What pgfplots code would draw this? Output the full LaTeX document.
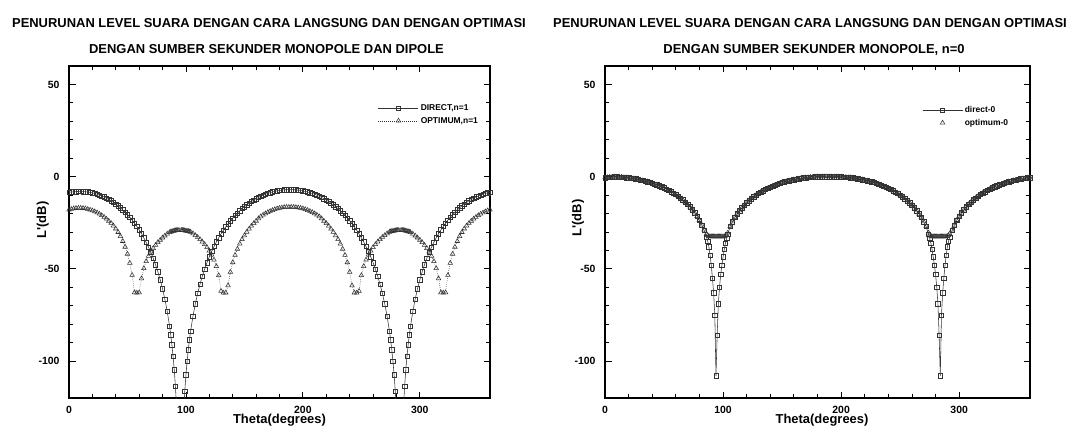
\documentclass[border=0pt]{standalone}
\usepackage{fontspec}
\setmainfont{Liberation Sans}
\usepackage{pgfplots}
\usepackage{pgfplotstable}
\pgfplotsset{compat=1.18}
\begin{document}
\pgfplotstableread{
t D O
0 -8.5 -18.0
2 -8.3 -17.6
4 -8.2 -17.3
6 -8.1 -17.1
8 -8.0 -17.0
10 -8.0 -17.0
12 -8.1 -17.1
14 -8.2 -17.3
16 -8.3 -17.6
18 -8.5 -18.0
20 -8.8 -18.4
22 -9.1 -18.9
24 -9.5 -19.5
26 -10.0 -20.2
28 -10.5 -21.0
30 -11.0 -21.9
32 -11.7 -22.9
34 -12.4 -24.0
36 -13.1 -25.2
38 -14.0 -26.6
40 -14.9 -28.2
42 -15.8 -30.1
44 -16.9 -32.3
46 -18.0 -35.0
48 -19.3 -38.1
50 -20.6 -41.9
52 -22.0 -46.8
54 -23.5 -53.4
56 -25.2 -62.8
58 -27.0 -63.0
60 -28.9 -62.8
62 -30.9 -55.2
64 -33.2 -49.7
66 -35.6 -45.9
68 -38.2 -43.0
70 -41.1 -40.7
72 -44.2 -38.8
74 -47.7 -37.1
76 -51.6 -35.6
78 -55.9 -34.3
80 -60.8 -33.1
82 -66.5 -32.0
84 -73.1 -31.0
86 -81.1 -30.2
87 -85.8 -29.9
88 -91.2 -29.7
89 -97.4 -29.5
90 -104.7 -29.3
91 -113.7 -29.2
92 -125.3 -29.1
93 -141.7 -29.05
94 -170 -29.0
96 -172 -29.0
97 -144.3 -29.05
98 -127.9 -29.1
99 -116.3 -29.2
100 -107.3 -29.3
101 -100.0 -29.45
102 -93.8 -29.6
103 -88.4 -29.8
104 -83.7 -30.0
106 -75.6 -30.8
108 -69.0 -31.8
110 -63.3 -32.8
112 -58.4 -34.0
114 -54.0 -35.3
116 -50.1 -36.7
118 -46.6 -38.3
120 -43.4 -40.2
122 -40.5 -42.4
124 -37.9 -45.1
126 -35.4 -48.6
128 -33.1 -53.5
130 -31.0 -62.0
132 -29.0 -63.0
134 -27.2 -62.9
136 -25.5 -59.0
138 -23.9 -51.7
140 -22.4 -46.5
142 -21.0 -42.5
144 -19.7 -39.2
146 -18.5 -36.4
148 -17.3 -34.0
150 -16.3 -31.9
152 -15.3 -30.0
154 -14.3 -28.3
156 -13.5 -26.7
158 -12.7 -25.3
160 -11.9 -24.0
162 -11.3 -22.7
164 -10.6 -21.6
166 -10.1 -20.7
168 -9.5 -20.0
170 -9.1 -19.3
172 -8.7 -18.7
174 -8.3 -18.2
176 -8.0 -17.7
178 -7.7 -17.3
180 -7.5 -17.0
182 -7.3 -16.8
184 -7.1 -16.6
186 -7.1 -16.5
188 -7.0 -16.5
190 -7.0 -16.5
192 -7.1 -16.5
194 -7.1 -16.6
196 -7.3 -16.8
198 -7.5 -17.0
200 -7.7 -17.3
202 -8.0 -17.7
204 -8.3 -18.2
206 -8.7 -18.7
208 -9.1 -19.3
210 -9.5 -20.0
212 -10.1 -20.7
214 -10.6 -21.6
216 -11.3 -22.7
218 -11.9 -24.0
220 -12.7 -25.3
222 -13.5 -26.7
224 -14.3 -28.3
226 -15.3 -30.0
228 -16.3 -31.9
230 -17.3 -34.0
232 -18.5 -36.4
234 -19.7 -39.2
236 -21.0 -42.5
238 -22.4 -46.5
240 -23.9 -51.7
242 -25.5 -59.0
244 -27.2 -62.9
246 -29.0 -63.0
248 -31.0 -62.0
250 -33.1 -53.5
252 -35.4 -48.6
254 -37.9 -45.1
256 -40.5 -42.4
258 -43.4 -40.2
260 -46.6 -38.3
262 -50.1 -36.7
264 -54.0 -35.3
266 -58.4 -34.0
268 -63.3 -32.8
270 -69.0 -31.8
272 -75.6 -30.8
274 -83.7 -30.0
275 -88.4 -29.8
276 -93.8 -29.6
277 -100.0 -29.45
278 -107.3 -29.3
279 -116.3 -29.2
280 -127.9 -29.1
281 -144.3 -29.05
282 -172 -29.0
284 -170 -29.0
285 -141.7 -29.05
286 -125.3 -29.1
287 -113.7 -29.2
288 -104.7 -29.3
289 -97.4 -29.5
290 -91.2 -29.7
291 -85.8 -29.9
292 -81.1 -30.2
294 -73.1 -31.0
296 -66.5 -32.0
298 -60.8 -33.1
300 -55.9 -34.3
302 -51.6 -35.6
304 -47.7 -37.1
306 -44.2 -38.8
308 -41.1 -40.7
310 -38.2 -43.0
312 -35.6 -45.9
314 -33.2 -49.7
316 -30.9 -55.2
318 -28.9 -62.8
320 -27.0 -63.0
322 -25.2 -62.8
324 -23.5 -53.4
326 -22.0 -46.8
328 -20.6 -41.9
330 -19.3 -38.1
332 -18.0 -35.0
334 -16.9 -32.3
336 -15.8 -30.1
338 -14.9 -28.2
340 -14.0 -26.6
342 -13.1 -25.2
344 -12.4 -24.0
346 -11.7 -22.9
348 -11.0 -21.9
350 -10.5 -21.0
352 -10.0 -20.2
354 -9.5 -19.5
356 -9.1 -18.9
358 -8.8 -18.4
360 -8.5 -18.0
}\leftdata
\pgfplotstableread{
t D O
0 -0.5 -0.5
2 -0.4 -0.4
4 -0.2 -0.2
6 -0.2 -0.2
8 -0.1 -0.1
10 -0.1 -0.1
12 -0.2 -0.2
14 -0.2 -0.2
16 -0.4 -0.4
18 -0.5 -0.5
20 -0.6 -0.6
22 -0.8 -0.8
24 -1.0 -1.0
26 -1.2 -1.2
28 -1.5 -1.5
30 -1.8 -1.8
32 -2.1 -2.1
34 -2.4 -2.4
36 -2.7 -2.7
38 -3.1 -3.1
40 -3.5 -3.5
42 -4.0 -4.0
44 -4.4 -4.4
46 -4.9 -4.9
48 -5.5 -5.5
50 -6.1 -6.1
52 -6.7 -6.7
54 -7.4 -7.4
56 -8.1 -8.1
58 -8.9 -8.9
60 -9.7 -9.7
62 -10.6 -10.6
64 -11.6 -11.6
66 -12.6 -12.6
68 -13.8 -13.8
70 -15.0 -15.0
72 -16.4 -16.4
74 -17.9 -17.9
76 -19.6 -19.6
78 -21.5 -21.5
80 -23.7 -23.6
82 -26.2 -26.1
84 -29.2 -28.8
86 -32.8 -31.0
87 -35.0 -31.8
88 -38.0 -32.3
89 -42.5 -32.5
90 -48.0 -32.5
91 -55.0 -32.5
92 -63.0 -32.5
93 -75.0 -32.5
94 -108.0 -32.5
95 -86.0 -32.5
96 -69.0 -32.5
97 -60.0 -32.5
98 -53.0 -32.5
99 -48.0 -32.5
100 -43.5 -32.5
101 -39.5 -32.4
102 -36.0 -32.1
103 -33.5 -31.5
104 -31.3 -30.4
106 -27.0 -26.9
108 -24.4 -24.4
110 -22.1 -22.1
112 -20.2 -20.2
114 -18.4 -18.4
116 -16.9 -16.9
118 -15.4 -15.4
120 -14.1 -14.1
122 -13.0 -13.0
124 -11.9 -11.9
126 -10.9 -10.9
128 -10.0 -10.0
130 -9.1 -9.1
132 -8.3 -8.3
134 -7.6 -7.6
136 -6.9 -6.9
138 -6.3 -6.3
140 -5.7 -5.7
142 -5.1 -5.1
144 -4.6 -4.6
146 -4.1 -4.1
148 -3.7 -3.7
150 -3.2 -3.2
152 -2.8 -2.8
154 -2.5 -2.5
156 -2.2 -2.2
158 -1.8 -1.8
160 -1.6 -1.6
162 -1.3 -1.3
164 -1.1 -1.1
166 -0.9 -0.9
168 -0.7 -0.7
170 -0.5 -0.5
172 -0.4 -0.4
174 -0.3 -0.3
176 -0.2 -0.2
178 -0.1 -0.1
180 0 0
182 0 0
184 0 0
186 0 0
188 0 0
190 0 0
192 0 0
194 0 0
196 0 0
198 0 0
200 -0.1 -0.1
202 -0.2 -0.2
204 -0.3 -0.3
206 -0.4 -0.4
208 -0.5 -0.5
210 -0.7 -0.7
212 -0.9 -0.9
214 -1.1 -1.1
216 -1.3 -1.3
218 -1.6 -1.6
220 -1.8 -1.8
222 -2.2 -2.2
224 -2.5 -2.5
226 -2.8 -2.8
228 -3.2 -3.2
230 -3.7 -3.7
232 -4.1 -4.1
234 -4.6 -4.6
236 -5.1 -5.1
238 -5.7 -5.7
240 -6.3 -6.3
242 -6.9 -6.9
244 -7.6 -7.6
246 -8.3 -8.3
248 -9.1 -9.1
250 -10.0 -10.0
252 -10.9 -10.9
254 -11.9 -11.9
256 -13.0 -13.0
258 -14.1 -14.1
260 -15.4 -15.4
262 -16.9 -16.9
264 -18.4 -18.4
266 -20.2 -20.2
268 -22.1 -22.1
270 -24.4 -24.4
272 -27.0 -26.9
274 -31.3 -30.4
275 -33.5 -31.5
276 -36.0 -32.1
277 -39.5 -32.4
278 -43.5 -32.5
279 -48.0 -32.5
280 -53.0 -32.5
281 -60.0 -32.5
282 -69.0 -32.5
283 -86.0 -32.5
284 -108.0 -32.5
285 -75.0 -32.5
286 -63.0 -32.5
287 -55.0 -32.5
288 -48.0 -32.5
289 -42.5 -32.5
290 -38.0 -32.3
291 -35.0 -31.8
292 -32.8 -31.0
294 -29.2 -28.8
296 -26.2 -26.1
298 -23.7 -23.6
300 -21.5 -21.5
302 -19.6 -19.6
304 -17.9 -17.9
306 -16.4 -16.4
308 -15.0 -15.0
310 -13.8 -13.8
312 -12.6 -12.6
314 -11.6 -11.6
316 -10.6 -10.6
318 -9.7 -9.7
320 -8.9 -8.9
322 -8.1 -8.1
324 -7.4 -7.4
326 -6.7 -6.7
328 -6.1 -6.1
330 -5.5 -5.5
332 -4.9 -4.9
334 -4.4 -4.4
336 -4.0 -4.0
338 -3.5 -3.5
340 -3.1 -3.1
342 -2.7 -2.7
344 -2.4 -2.4
346 -2.1 -2.1
348 -1.8 -1.8
350 -1.5 -1.5
352 -1.2 -1.2
354 -1.0 -1.0
356 -0.8 -0.8
358 -0.6 -0.6
360 -0.5 -0.5
}\rightdata
\begin{tikzpicture}[x=1bp,y=1bp]
\useasboundingbox (0,0) rectangle (1079,429);
\pgfplotsset{
  myaxis/.style={
    scale only axis, height=332bp,
    xmin=0, xmax=360, ymin=-120, ymax=60,
    xtick={0,100,200,300}, ytick={-100,-50,0,50},
    minor x tick num=4, minor y tick num=4,
    tick align=inside,
    major tick length=6.5bp, minor tick length=4bp,
    axis line style={line width=1.6bp},
    every tick/.style={line width=0.85bp, black},
    /pgf/number format/assume math mode=true,
    ticklabel style={font=\fontsize{10.5}{10.5}\selectfont\bfseries},
    yticklabel style={xshift=-6bp},
    xticklabel style={yshift=-5bp},
    label style={font=\fontsize{13}{13}\selectfont\bfseries},
    legend style={draw=none, fill=none, anchor=north west,
      font=\fontsize{8.5}{9}\selectfont\bfseries, row sep=1bp, inner sep=0pt,
      cells={anchor=west}},
    legend image code/.code={\draw[mark repeat=2,mark phase=2,##1] plot coordinates {(0bp,0bp) (20bp,0bp) (40bp,0bp)};},
  }
}
\begin{axis}[myaxis, at={(69bp,31bp)}, anchor=south west, width=421bp,
  xlabel={Theta(degrees)}, ylabel={L\textquotesingle(dB)},
  xlabel style={at={(axis description cs:0.5,-0.0753)}, anchor=base},
  ylabel style={at={(axis description cs:-0.062,0.536)}, anchor=center},
  legend style={at={(0.734,0.89)}}]
\addplot[black!80, line width=0.55bp, mark=square, mark size=2.2bp, mark options={solid, line width=0.55bp}] table[x=t,y=D] {\leftdata};
\addlegendentry{DIRECT,n=1}
\addplot[black!80, line width=0.55bp, dash pattern=on 0.6bp off 1.4bp, mark=triangle, mark size=2.6bp, mark options={solid, line width=0.55bp}] table[x=t,y=O] {\leftdata};
\addlegendentry{OPTIMUM,n=1}
\end{axis}
\begin{axis}[myaxis, at={(605bp,31bp)}, anchor=south west, width=425bp,
  xlabel={Theta(degrees)}, ylabel={L\textquotesingle(dB)},
  xlabel style={at={(axis description cs:0.5106,-0.0753)}, anchor=base},
  ylabel style={at={(axis description cs:-0.0635,0.542)}, anchor=center},
  legend style={at={(0.746,0.885)}}]
\addplot[black!80, line width=0.55bp, mark=square, mark size=2.2bp, mark options={solid, line width=0.55bp}] table[x=t,y=D] {\rightdata};
\addlegendentry{direct-0}
\addplot[black!80, only marks, mark=triangle, mark size=2.6bp, mark options={solid, line width=0.55bp}] table[x=t,y=O] {\rightdata};
\addlegendentry{optimum-0}
\end{axis}
\node[anchor=base, font=\fontsize{13}{13}\selectfont\bfseries] at (269,401.6) {PENURUNAN LEVEL SUARA DENGAN CARA LANGSUNG DAN DENGAN OPTIMASI};
\node[anchor=base, font=\fontsize{13}{13}\selectfont\bfseries] at (266.5,375.9) {DENGAN SUMBER SEKUNDER MONOPOLE DAN DIPOLE};
\node[anchor=base, font=\fontsize{13}{13}\selectfont\bfseries] at (810,401.6) {PENURUNAN LEVEL SUARA DENGAN CARA LANGSUNG DAN DENGAN OPTIMASI};
\node[anchor=base, font=\fontsize{13}{13}\selectfont\bfseries] at (814,375.9) {DENGAN SUMBER SEKUNDER MONOPOLE, n=0};
\end{tikzpicture}
\end{document}
